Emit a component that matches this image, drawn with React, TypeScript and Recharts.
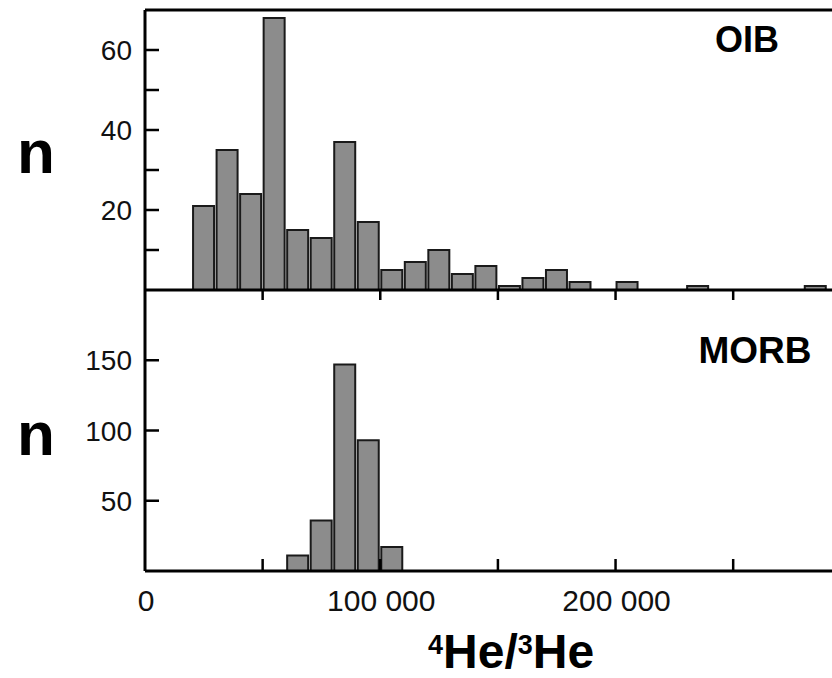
import { Bar, ComposedChart, ReferenceLine, XAxis, YAxis } from 'recharts';

const FONT = '"Liberation Sans", Arial, Helvetica, sans-serif';

// histogram bins are 10 000 wide, keyed by bin start
const BIN = 10000;
const oibBinStarts = [
  20000, 30000, 40000, 50000, 60000, 70000, 80000, 90000, 100000, 110000, 120000, 130000, 140000, 150000,
  160000, 170000, 180000, 190000, 200000, 210000, 220000, 230000, 240000, 250000, 260000, 270000, 280000
];
const oibCounts = [21, 35, 24, 68, 15, 13, 37, 17, 5, 7, 10, 4, 6, 1, 3, 5, 2, 0, 2, 0, 0, 1, 0, 0, 0, 0, 1];

const morbBinStarts = [60000, 70000, 80000, 90000, 100000];
const morbCounts = [11, 36, 147, 93, 17];

const xTicks = [0, 50000, 100000, 150000, 200000, 250000];
const xLabels = [0, 100000, 200000];
const oibTicks = [10, 20, 30, 40, 50, 60];
const oibLabels = [20, 40, 60];
const morbTicks = [50, 100, 150];

const X_MAX = 292000;
const oibData = oibBinStarts.map((s, i) => ({ x: s + BIN / 2, n: oibCounts[i] }));
const morbData = morbBinStarts.map((s, i) => ({ x: s + BIN / 2, n: morbCounts[i] }));

const fmt = (v: number) => (v === 0 ? '0' : `${Math.round(v / 1000)} 000`);

const TopXTick = ({ x, y, payload }: any) =>
  payload.value === 0 ? <g /> : <line x1={x} x2={x} y1={y} y2={y + 12} stroke="#000" strokeWidth={2.5} />;

const BottomXTick = ({ x, y, payload }: any) => (
  <g>
    {payload.value !== 0 && <line x1={x} x2={x} y1={y} y2={y - 12} stroke="#000" strokeWidth={2.5} />}
    {xLabels.includes(payload.value) && (
      <text x={x + 1} y={y + 40} textAnchor="middle" fontSize={30} fontFamily={FONT} fill="#111">
        {fmt(payload.value)}
      </text>
    )}
  </g>
);

const makeYTick = (labels: number[]) => ({ x, y, payload }: any) => (
  <g>
    <line x1={x} x2={x + 14} y1={y} y2={y} stroke="#000" strokeWidth={2.5} />
    {labels.includes(payload.value) && (
      <text x={x - 13} y={y + 10} textAnchor="end" fontSize={28} fontFamily={FONT} fill="#111">
        {payload.value}
      </text>
    )}
  </g>
);

const barStyle = { fill: '#8c8c8c', stroke: '#1a1a1a', strokeWidth: 2 };

export default function App() {
  return (
    <div style={{ position: 'absolute', left: 0, top: 0, width: 832, height: 678, overflow: 'hidden', background: '#fff' }}>
      <div style={{ position: 'absolute', left: 0, top: 0 }}>
        <ComposedChart width={832} height={300} data={oibData} margin={{ top: 10, right: 0, bottom: 9, left: 144 }}>
          <XAxis
            dataKey="x"
            type="number"
            domain={[0, X_MAX]}
            ticks={xTicks}
            height={1}
            tickSize={0}
            tickMargin={0}
            tick={<TopXTick />}
            axisLine={{ stroke: '#000', strokeWidth: 3 }}
            tickLine={false}
            allowDataOverflow
          />
          <YAxis
            type="number"
            domain={[0, 70]}
            ticks={oibTicks}
            width={1}
            tickSize={0}
            tickMargin={0}
            tick={makeYTick(oibLabels)}
            axisLine={{ stroke: '#000', strokeWidth: 3 }}
            tickLine={false}
            allowDataOverflow
          />
          <ReferenceLine y={70} stroke="#000" strokeWidth={3} />
          <Bar dataKey="n" barSize={21} {...barStyle} isAnimationActive={false} />
        </ComposedChart>
      </div>
      <div style={{ position: 'absolute', left: 0, top: 0 }}>
        <ComposedChart width={832} height={678} data={morbData} margin={{ top: 290, right: 0, bottom: 106, left: 144 }}>
          <XAxis
            dataKey="x"
            type="number"
            domain={[0, X_MAX]}
            ticks={xTicks}
            height={1}
            tickSize={0}
            tickMargin={0}
            tick={<BottomXTick />}
            axisLine={{ stroke: '#000', strokeWidth: 3 }}
            tickLine={false}
            allowDataOverflow
          />
          <YAxis
            type="number"
            domain={[0, 200]}
            ticks={morbTicks}
            width={1}
            tickSize={0}
            tickMargin={0}
            tick={makeYTick(morbTicks)}
            axisLine={{ stroke: '#000', strokeWidth: 3 }}
            tickLine={false}
            allowDataOverflow
          />
          <Bar dataKey="n" barSize={21} {...barStyle} isAnimationActive={false} />
        </ComposedChart>
      </div>
      <svg width={832} height={678} style={{ position: 'absolute', left: 0, top: 0, pointerEvents: 'none' }}>
        <g fontFamily={FONT} fontWeight="bold" fill="#000">
          <text x={17} y={173} fontSize={62}>n</text>
          <text x={17} y={455} fontSize={62}>n</text>
          <text x={747} y={52} fontSize={36} textAnchor="middle">OIB</text>
          <text x={755} y={363} fontSize={37} textAnchor="middle">MORB</text>
          <text x={428} y={668} fontSize={48}>
            <tspan fontSize={27} dy={-14}>4</tspan>
            <tspan dy={14}>He/</tspan>
            <tspan fontSize={27} dy={-14}>3</tspan>
            <tspan dy={14}>He</tspan>
          </text>
        </g>
      </svg>
    </div>
  );
}
